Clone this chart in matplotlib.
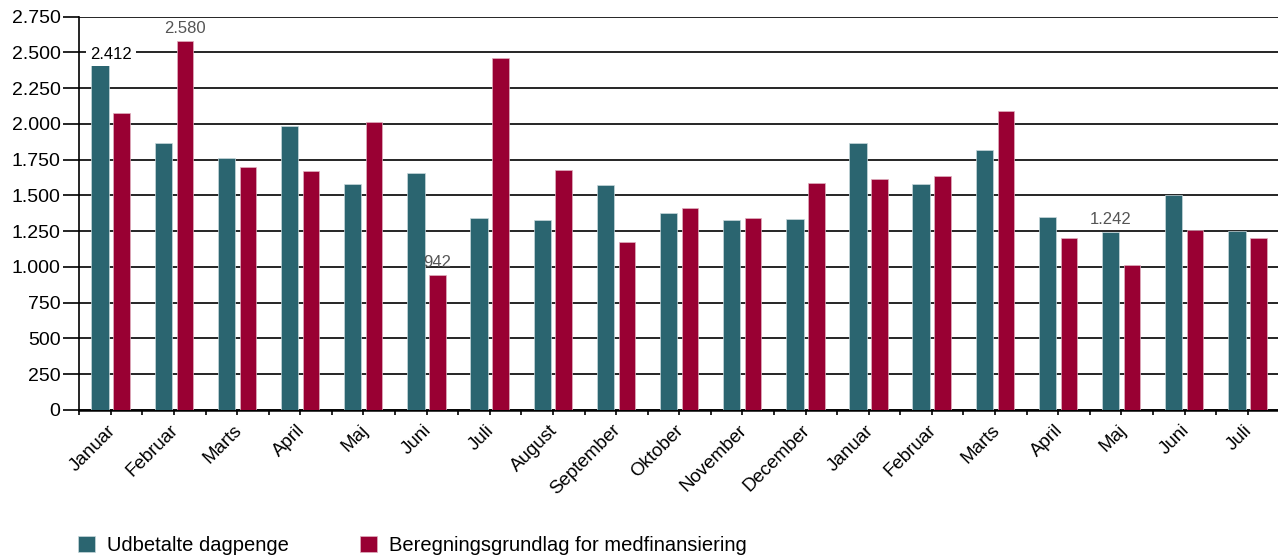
import matplotlib.pyplot as plt
import matplotlib.transforms as mtransforms
import numpy as np
from matplotlib.ticker import FuncFormatter, MultipleLocator

plt.rcParams['font.family'] = ['Liberation Sans', 'DejaVu Sans']

# Måneder (to år i træk)
maaneder = ['Januar', 'Februar', 'Marts', 'April', 'Maj', 'Juni', 'Juli',
            'August', 'September', 'Oktober', 'November', 'December',
            'Januar', 'Februar', 'Marts', 'April', 'Maj', 'Juni', 'Juli']

udbetalte = [2412, 1865, 1765, 1985, 1580, 1655, 1345, 1330, 1575, 1380,
             1330, 1335, 1870, 1580, 1820, 1350, 1242, 1500, 1250]
beregning = [2075, 2580, 1700, 1670, 2015, 942, 2460, 1680, 1175, 1415,
             1345, 1590, 1615, 1635, 2090, 1205, 1010, 1255, 1205]

serier = ['Udbetalte dagpenge', 'Beregningsgrundlag for medfinansiering']

# Hvilke søjler der har en værdi-etiket (serie, indeks)
etiketter = [(0, 0), (1, 1), (1, 5), (0, 16)]

teal = '#2b6570'
roed = '#990033'

fig = plt.figure(figsize=(12.78, 5.59), dpi=100)
ax = fig.add_axes([0.062, 0.267, 0.939, 0.703])

x = np.arange(len(maaneder))
b1 = ax.bar(x - 0.17, udbetalte, width=0.275, color=teal,
            edgecolor='#c8d8dc', linewidth=0.5, zorder=3, label=serier[0])
b2 = ax.bar(x + 0.17, beregning, width=0.26, color=roed,
            edgecolor='#e0b0c0', linewidth=0.5, zorder=3, label=serier[1])

ax.set_ylim(0, 2750)
ax.set_xlim(-0.5, len(maaneder) - 0.5)
ax.yaxis.set_major_locator(MultipleLocator(250))
ax.yaxis.set_major_formatter(FuncFormatter(lambda v, p: f'{int(v):,}'.replace(',', '.')))
ax.grid(axis='y', color='black', linewidth=1.2, zorder=0)
ax.set_axisbelow(True)

for s in ['top', 'right']:
    ax.spines[s].set_visible(False)
ax.spines['left'].set_linewidth(1.2)
ax.spines['bottom'].set_linewidth(1.8)

ax.set_xticks(x)
ax.set_xticklabels(maaneder, rotation=45, ha='right', rotation_mode='anchor',
                   fontsize=13.5)
ax.set_xticks(np.arange(-0.5, len(maaneder), 1.0), minor=True)
ax.tick_params(axis='x', which='both', length=3.6, width=1.2, pad=5)
ax.tick_params(axis='y', length=11.5, width=1.2, labelsize=14, pad=2)

# flyt månedsnavnene en smule til venstre
skub = mtransforms.ScaledTranslation(-4 / 100, 0, fig.dpi_scale_trans)
for lbl in ax.get_xticklabels():
    lbl.set_transform(lbl.get_transform() + skub)

data = [udbetalte, beregning]
for s, i in etiketter:
    v = data[s][i]
    xpos = x[i] + (-0.17 if s == 0 else 0.17)
    farve = '#555555'
    txt = f'{v:,}'.replace(',', '.')
    if (s, i) == (0, 0):
        # denne etiket står midt over gruppen med hvid baggrund
        t = ax.annotate(txt, (x[i], v), xytext=(0, 2), textcoords='offset points',
                        ha='center', va='bottom', fontsize=12, color='black',
                        zorder=4)
        t.set_bbox(dict(facecolor='white', edgecolor='none', pad=3))
    else:
        ax.annotate(txt, (xpos, v), xytext=(0, 4), textcoords='offset points',
                    ha='center', va='bottom', fontsize=12, color=farve,
                    zorder=4)

fig.legend(handles=[b1, b2], labels=serier, loc='lower left',
           bbox_to_anchor=(0.047, -0.025), ncol=2, frameon=False,
           fontsize=14.5, handlelength=0.85, handleheight=0.85,
           handletextpad=0.6, columnspacing=3.5)

fig.savefig('out.png', dpi=100)
